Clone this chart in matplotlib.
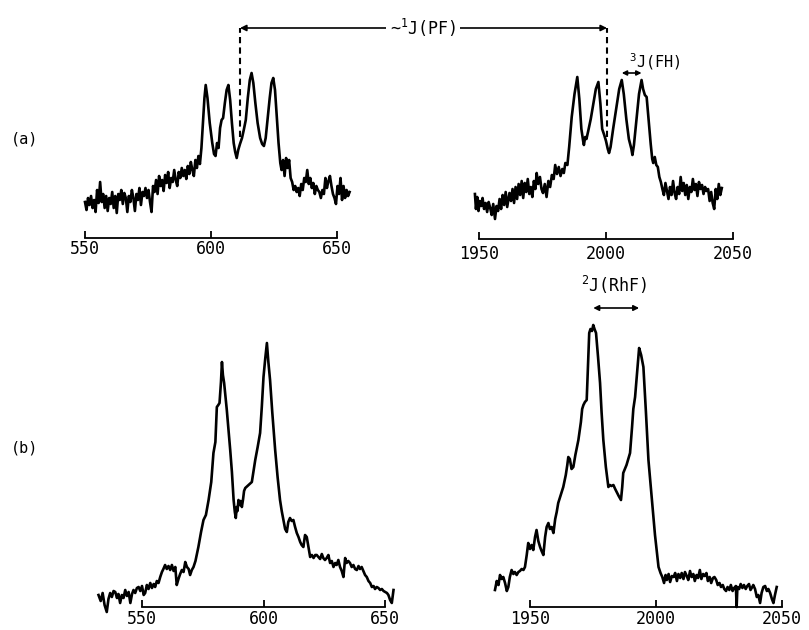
# spectra_figure.py
# 19F NMR-style spectra, panels (a) and (b), two regions each

import matplotlib
matplotlib.use("Agg")
import matplotlib.pyplot as plt
from matplotlib.patches import ConnectionPatch

W, H = 809, 630

plt.rcParams["font.family"] = ["DejaVu Sans Mono", "DejaVu Sans"]
plt.rcParams["mathtext.fontset"] = "custom"
plt.rcParams["mathtext.rm"] = "DejaVu Sans Mono"
plt.rcParams["mathtext.it"] = "DejaVu Sans Mono"

# --- data: (a) low-frequency multiplet ---
freq_a_low = [
    550.0, 550.6, 551.2, 551.8, 552.4, 553.0, 553.6, 554.2, 554.8, 555.4,
    556.0, 556.6, 557.2, 557.8, 558.4, 559.0, 559.6, 560.2, 560.8, 561.4,
    562.0, 562.6, 563.2, 563.8, 564.4, 565.0, 565.6, 566.2, 566.8, 567.4,
    568.0, 568.6, 569.2, 569.8, 570.4, 571.0, 571.6, 572.2, 572.8, 573.4,
    574.0, 574.6, 575.2, 575.8, 576.4, 577.0, 577.6, 578.2, 578.8, 579.4,
    580.0, 580.6, 581.2, 581.8, 582.4, 583.0, 583.6, 584.2, 584.8, 585.4,
    586.0, 586.6, 587.2, 587.8, 588.4, 589.0, 589.6, 590.2, 590.8, 591.4,
    592.0, 592.6, 593.2, 593.8, 594.4, 595.0, 595.6, 596.2,
    596.8, 597.4, 597.9, 598.6, 599.5, 600.5, 601.2, 601.8, 602.4, 603.0,
    603.6, 604.2, 604.8, 605.5, 606.2, 606.9, 607.6, 608.3, 609.0, 609.6,
    610.2, 610.8, 611.5, 612.3, 613.0, 613.8, 614.6, 615.4, 616.1, 616.8,
    617.6, 618.5, 619.5, 620.3, 621.0, 621.7, 622.5, 623.3, 624.0, 624.7,
    625.4, 626.0, 626.8, 627.5, 628.0,
    628.6, 629.2, 629.8, 630.4, 631.0, 631.6, 632.2, 632.8, 633.4, 634.0,
    634.6, 635.2, 635.8, 636.4, 637.0, 637.6, 638.2, 638.8, 639.4, 640.0,
    640.6, 641.2, 641.8, 642.4, 643.0, 643.6, 644.2, 644.8, 645.4, 646.0,
    646.6, 647.2, 647.8, 648.4, 649.0, 649.6, 650.2, 650.8, 651.4, 652.0,
    652.6, 653.2, 653.8, 654.4, 655.0,
]
int_a_low = [
    36, 28, 40, 33, 42, 30, 38, 26, 48, 35,
    56, 36, 44, 30, 42, 27, 40, 34, 46, 30,
    42, 25, 44, 38, 48, 34, 45, 40, 26, 42,
    36, 48, 40, 27, 44, 38, 50, 33, 46, 42,
    50, 40, 48, 36, 26, 52, 46, 58, 44, 62,
    52, 58, 47, 63, 55, 66, 50, 60, 56, 68,
    58, 52, 66, 60, 70, 62, 68, 59, 72, 64,
    76, 68, 62, 78, 70, 82, 74, 90,
    115, 140, 153, 140, 115, 95, 84, 82, 95, 90,
    110, 118, 120, 135, 148, 153, 138, 115, 95, 86,
    80, 88, 94, 100, 108, 118, 140, 158, 165, 155,
    135, 115, 100, 94, 92, 100, 120, 140, 155, 160,
    148, 125, 95, 75, 68,
    78, 62, 80, 70, 78, 60, 56, 48, 52, 46,
    50, 42, 54, 48, 60, 56, 68, 54, 60, 50,
    55, 44, 52, 48, 46, 40, 48, 44, 60, 50,
    57, 62, 52, 44, 40, 34, 52, 44, 60, 38,
    52, 40, 48, 42, 46,
]

# --- data: (a) high-frequency multiplet ---
freq_a_high = [
    1948.4, 1948.8, 1949.3, 1949.8, 1950.3, 1950.9, 1951.4, 1952.0, 1952.6, 1953.2,
    1953.8, 1954.4, 1955.0, 1955.6, 1956.3, 1956.9, 1957.5, 1958.1, 1958.7, 1959.3,
    1959.9, 1960.5, 1961.1, 1962.0, 1962.6, 1963.2, 1963.8, 1964.4, 1965.0, 1965.6,
    1966.2, 1966.8, 1967.4, 1968.0, 1968.6, 1969.2, 1969.8, 1970.4, 1971.0, 1971.6,
    1972.2, 1972.7, 1973.3, 1974.0, 1974.6, 1975.2, 1975.9, 1976.6, 1977.3, 1978.0,
    1978.7, 1979.4, 1980.0, 1980.7, 1981.4, 1982.1, 1982.8, 1983.4, 1984.0, 1984.8,
    1985.5, 1986.5, 1987.6, 1988.7, 1989.5, 1990.3, 1991.0, 1991.3, 1991.8, 1992.3,
    1993.0, 1994.0, 1995.0, 1996.0, 1997.0, 1997.8, 1998.5, 1999.3, 2000.0, 2000.7,
    2001.2, 2001.8, 2002.8, 2004.0, 2005.2, 2006.2, 2007.0, 2008.0, 2009.0, 2010.0,
    2010.4, 2011.0, 2012.0, 2013.0, 2014.0, 2014.6, 2015.3, 2016.0, 2016.8, 2017.6,
    2018.2, 2018.6, 2019.2, 2019.8, 2020.4, 2021.0, 2021.6, 2022.2, 2022.8, 2023.4,
    2024.0, 2024.6, 2025.2, 2025.8, 2026.4, 2027.0, 2027.6, 2028.2, 2028.8, 2029.4,
    2030.0, 2030.6, 2031.2, 2031.8, 2032.4, 2033.0, 2033.6, 2034.2, 2034.8, 2035.4,
    2036.0, 2036.6, 2037.2, 2037.8, 2038.4, 2039.0, 2039.6, 2040.2, 2040.8, 2041.4,
    2042.0, 2042.6, 2043.2, 2043.8, 2044.4, 2045.0, 2045.6,
]
int_a_high = [
    45, 30, 42, 28, 38, 33, 41, 30, 36, 27,
    37, 31, 24, 35, 20, 33, 28, 40, 30, 44,
    34, 47, 32, 46, 38, 50, 36, 52, 40, 55,
    44, 58, 41, 56, 47, 60, 45, 52, 42, 58,
    50, 66, 55, 62, 50, 46, 55, 42, 58, 52,
    64, 60, 74, 65, 72, 63, 70, 66, 76, 74,
    92, 122, 145, 162, 140, 110, 98, 94, 102, 100,
    108, 120, 135, 150, 157, 135, 110, 104, 98, 90,
    86, 92, 110, 130, 150, 159, 145, 120, 100, 90,
    84, 94, 120, 145, 159, 150, 144, 142, 118, 95,
    80, 76, 82, 74, 72, 62, 57, 50, 44, 56,
    48, 40, 52, 44, 58, 46, 40, 52, 45, 62,
    48, 56, 44, 54, 40, 52, 47, 60, 49, 55,
    43, 57, 50, 54, 45, 52, 48, 50, 38, 47,
    36, 30, 50, 40, 55, 44, 51,
]

# --- data: (b) low-frequency doublet ---
freq_b_low = [
    532.1, 533.0, 533.8, 534.6, 535.5, 536.2, 536.9, 537.6, 538.3, 539.0,
    539.7, 540.3, 541.0, 541.7, 542.4, 543.1, 543.8, 544.5, 545.2, 545.9,
    546.5, 547.2, 547.9, 548.6, 549.3, 550.0, 550.7, 551.3, 552.0, 552.7,
    553.4, 554.1, 554.8, 555.4, 556.1, 556.8, 557.5, 558.2, 558.8, 559.5,
    560.2, 560.9, 561.6, 562.3, 563.0, 563.7, 564.3, 565.0, 565.7, 566.4,
    567.1, 567.8, 568.5, 569.2, 569.8, 570.5, 571.2, 572.0, 573.2, 574.3,
    575.3, 576.3, 577.4, 578.5, 579.4, 580.2, 580.8, 581.4, 581.9, 582.5,
    582.9, 583.3, 583.8, 584.9, 586.3, 587.0, 587.7, 588.2, 588.6, 589.0,
    589.3, 589.7, 590.2, 590.6, 591.1, 591.6, 592.0, 592.5, 593.4, 594.3,
    595.2, 596.0, 596.6, 597.6, 598.6, 599.3, 600.0, 600.7, 601.4, 602.0,
    602.7, 603.6, 604.8, 605.8, 606.8, 607.5, 608.2, 608.9, 609.6, 610.2,
    610.9, 611.6, 612.3, 613.0, 613.7, 614.4, 615.1, 615.7, 616.4, 617.1,
    617.8, 618.5, 619.2, 619.9, 620.6, 621.3, 621.9, 622.6, 623.3, 624.0,
    624.6, 625.3, 626.0, 626.7, 627.4, 628.1, 628.8, 629.5, 630.1, 630.8,
    631.5, 632.2, 632.9, 633.6, 634.2, 634.9, 635.6, 636.3, 637.0, 637.7,
    638.4, 639.1, 639.7, 640.4, 641.1, 641.8, 642.5, 643.2, 643.9, 644.6,
    645.3, 645.9, 646.6, 647.3, 648.0, 648.7, 649.4, 650.1, 650.8, 651.4,
    652.1, 652.8, 653.5,
]
int_b_low = [
    12, 6, 14, 2, -5, 8, 14, 10, 16, 15,
    9, 13, 4, 12, 9, 17, 11, 15, 4, 13,
    17, 14, 19, 20, 16, 21, 12, 14, 22, 18,
    24, 19, 23, 20, 26, 24, 30, 35, 38, 42,
    38, 41, 37, 42, 36, 40, 22, 28, 33, 37,
    35, 45, 40, 38, 32, 37, 40, 46, 60, 75,
    87, 92, 107, 125, 154, 165, 200, 202, 204, 225,
    245, 232, 224, 197, 157, 135, 107, 95, 89, 100,
    96, 107, 102, 106, 100, 108, 116, 119, 121, 123,
    125, 138, 147, 160, 174, 200, 230, 248, 264, 245,
    227, 195, 157, 130, 107, 96, 87, 78, 75, 85,
    89, 86, 87, 80, 74, 70, 65, 62, 60, 72,
    70, 60, 50, 52, 49, 52, 52, 50, 48, 53,
    49, 47, 49, 52, 44, 46, 40, 44, 42, 47,
    40, 36, 30, 49, 44, 46, 44, 40, 42, 38,
    37, 41, 38, 40, 36, 32, 30, 26, 24, 20,
    21, 18, 20, 19, 17, 18, 16, 15, 14, 12,
    7, 4, 17,
]

# --- data: (b) high-frequency doublet ---
freq_b_high = [
    1936.1, 1936.8, 1937.5, 1938.1, 1938.8, 1939.4, 1940.1, 1940.8, 1941.4, 1942.0,
    1942.7, 1943.4, 1944.0, 1944.7, 1945.4, 1946.0, 1946.7, 1947.4, 1948.0, 1948.7,
    1949.3, 1950.0, 1950.6, 1951.3, 1952.0, 1952.6, 1953.3, 1954.0, 1954.6, 1955.3,
    1956.0, 1956.6, 1957.3, 1957.9, 1958.6, 1959.3, 1960.0, 1960.6, 1961.2, 1962.2,
    1963.2, 1964.2, 1964.8, 1965.2, 1965.8, 1966.5, 1967.2, 1968.0, 1969.2, 1970.2,
    1970.7, 1971.2, 1971.8, 1972.5, 1973.0, 1973.5, 1974.0, 1974.6, 1975.1, 1975.6,
    1976.2, 1977.0, 1977.8, 1978.4, 1979.1, 1980.1, 1981.1, 1981.7, 1982.3, 1983.1,
    1983.8, 1984.4, 1985.2, 1986.1, 1986.6, 1987.0, 1988.3, 1989.7, 1990.5, 1991.0,
    1991.7, 1992.5, 1993.3, 1994.1, 1995.0, 1996.0, 1997.0, 1998.0, 1999.0, 1999.6,
    2000.2, 2001.0, 2001.8, 2002.5, 2003.2, 2003.8, 2004.3, 2005.0, 2005.6, 2006.3,
    2007.0, 2007.6, 2008.3, 2008.9, 2009.6, 2010.2, 2010.9, 2011.5, 2012.2, 2012.8,
    2013.5, 2014.1, 2014.8, 2015.4, 2016.1, 2016.7, 2017.4, 2018.0, 2018.7, 2019.3,
    2020.0, 2020.6, 2021.3, 2021.9, 2022.6, 2023.2, 2023.9, 2024.5, 2025.2, 2025.8,
    2026.5, 2027.1, 2027.8, 2028.4, 2029.1, 2029.7, 2030.4, 2031.0, 2031.7, 2032.0,
    2032.3, 2033.0, 2033.6, 2034.3, 2034.9, 2035.6, 2036.2, 2036.9, 2037.5, 2038.2,
    2038.6, 2039.3, 2040.0, 2040.6, 2041.3, 2041.9, 2042.6, 2043.3, 2044.0, 2044.6,
    2045.3, 2046.0, 2046.6, 2047.2, 2047.9,
]
int_b_high = [
    17, 26, 22, 32, 28, 30, 24, 16, 20, 30,
    37, 33, 35, 32, 35, 36, 38, 37, 40, 52,
    64, 58, 62, 57, 70, 77, 66, 60, 56, 52,
    70, 80, 84, 78, 80, 74, 88, 95, 104, 112,
    120, 132, 142, 150, 148, 138, 140, 152, 167, 185,
    198, 202, 205, 207, 240, 274, 278, 276, 282, 278,
    274, 250, 224, 195, 167, 140, 120, 122, 121, 122,
    118, 115, 111, 107, 120, 134, 142, 154, 180, 198,
    210, 235, 259, 252, 240, 195, 147, 118, 90, 72,
    58, 40, 34, 30, 24, 32, 27, 33, 25, 31,
    30, 34, 26, 33, 29, 34, 28, 35, 31, 27,
    36, 30, 33, 26, 32, 29, 37, 28, 33, 31,
    34, 26, 30, 24, 29, 30, 27, 22, 24, 20,
    22, 18, 16, 20, 17, 22, 16, 19, 21, 0,
    20, 18, 23, 19, 22, 18, 21, 23, 17, 20,
    22, 18, 10, 12, 4, 14, 20, 21, 16, 18,
    14, 8, 4, 12, 20,
]

ticks_low = [550, 600, 650]
ticks_high = [1950, 2000, 2050]

# couplings marked on the figure (Hz)
pf_left, pf_right = 611.5, 2000.4
fh_peaks = (2006.2, 2014.0)
rhf_peaks = (1975.1, 1993.3)


def add_panel(fig, ticks, px_lo, px_hi, axis_py, xlim, ylim, pad):
    """Axes where 1 intensity unit = 1 pixel; bottom spine is the scale bracket."""
    x_lo, x_hi = ticks[0], ticks[-1]
    scale = (px_hi - px_lo) / (x_hi - x_lo)
    left = px_lo + (xlim[0] - x_lo) * scale
    right = px_lo + (xlim[1] - x_lo) * scale
    top = axis_py - ylim[1]
    bottom = axis_py - ylim[0]
    ax = fig.add_axes([left / W, 1 - bottom / H, (right - left) / W, (bottom - top) / H])
    ax.set_xlim(xlim)
    ax.set_ylim(ylim)
    ax.patch.set_visible(False)
    for s in ["top", "left", "right"]:
        ax.spines[s].set_visible(False)
    ax.spines["bottom"].set_position(("data", 0))
    ax.spines["bottom"].set_bounds(x_lo, x_hi)
    ax.spines["bottom"].set_linewidth(1.3)
    ax.set_yticks([])
    ax.set_xticks(ticks)
    ax.set_xticklabels([str(t) for t in ticks])
    ax.tick_params(axis="x", direction="in", length=5, width=1.3, pad=pad, labelsize=12)
    return ax


fig = plt.figure(figsize=(W / 100, H / 100), dpi=100)

ax_al = add_panel(fig, ticks_low, 85, 337, 238, (545, 660), (-20, 215), 1.5)
ax_ar = add_panel(fig, ticks_high, 479, 733, 239, (1940, 2055), (-20, 215), 4)
ax_bl = add_panel(fig, ticks_low, 142, 385, 607, (528, 658), (-15, 300), 2.5)
ax_br = add_panel(fig, ticks_high, 530, 782, 607, (1932, 2052), (-15, 300), 2.5)

line_kw = dict(color="black", lw=1.9, solid_joinstyle="round")
ax_al.plot(freq_a_low, int_a_low, **line_kw)
ax_ar.plot(freq_a_high, int_a_high, **line_kw)
ax_bl.plot(freq_b_low, int_b_low, **line_kw)
ax_br.plot(freq_b_high, int_b_high, **line_kw)

# --- ~1J(PF) bracket across the two (a) panels ---
dash = (0, (3, 2))
ax_al.vlines(pf_left, 101, 210, colors="black", linestyles=dash, lw=1.5)
ax_ar.vlines(pf_right, 102, 211, colors="black", linestyles=dash, lw=1.5)
con = ConnectionPatch(xyA=(pf_left, 210), coordsA=ax_al.transData,
                      xyB=(pf_right, 211), coordsB=ax_ar.transData,
                      arrowstyle="<|-|>", mutation_scale=9, lw=1.2, color="black",
                      shrinkA=0, shrinkB=0, zorder=1)
fig.add_artist(con)
fig.text(423 / W, 1 - 28 / H, r"~$^{1}$J(PF)", ha="center", va="center", fontsize=12,
         bbox=dict(facecolor="white", edgecolor="none", pad=3), zorder=5)

# --- 3J(FH) ---
ax_ar.annotate("", xy=(fh_peaks[0], 166), xytext=(fh_peaks[1], 166),
               arrowprops=dict(arrowstyle="<|-|>", mutation_scale=7, lw=1.2,
                               color="black", shrinkA=0, shrinkB=0),
               annotation_clip=False)
ax_ar.text(2019.3, 177, r"$^{3}$J(FH)", ha="center", va="center", fontsize=11)

# --- 2J(RhF) ---
ax_br.annotate("", xy=(rhf_peaks[0], 299), xytext=(rhf_peaks[1], 299),
               arrowprops=dict(arrowstyle="<|-|>", mutation_scale=8, lw=1.2,
                               color="black", shrinkA=0, shrinkB=0),
               annotation_clip=False)
ax_br.text(1983.3, 322, r"$^{2}$J(RhF)", ha="center", va="center", fontsize=12)

# panel labels
fig.text(25 / W, 1 - 139 / H, "(a)", ha="center", va="center", fontsize=11)
fig.text(25 / W, 1 - 448 / H, "(b)", ha="center", va="center", fontsize=11)

fig.savefig("out.png", dpi=100)
